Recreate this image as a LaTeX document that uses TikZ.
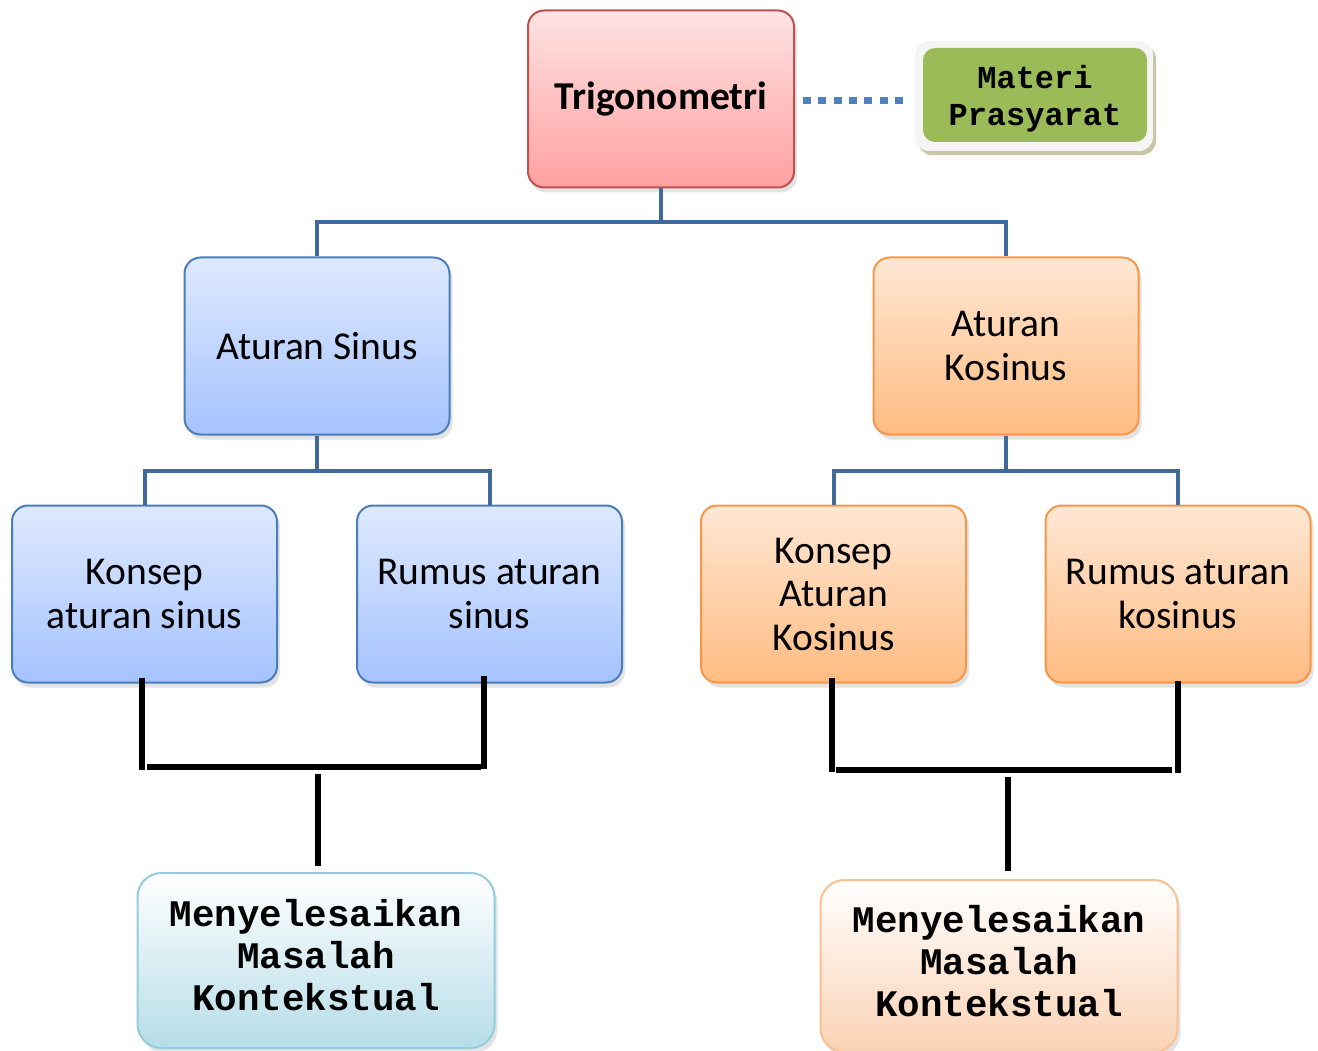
\documentclass[tikz,border=0pt]{standalone}
\usepackage{fontspec}
\setmainfont{Carlito}
\newfontfamily\monob{Liberation Mono}
\usetikzlibrary{shadows}
\definecolor{trigB}{HTML}{C0504D}
\definecolor{trigT}{HTML}{FFE3E3}
\definecolor{trigL}{HTML}{FFA0A0}
\definecolor{bluB}{HTML}{4A7EBB}
\definecolor{bluT}{HTML}{DEE9FF}
\definecolor{bluL}{HTML}{A5C3FF}
\definecolor{oraB}{HTML}{F79646}
\definecolor{oraT}{HTML}{FFE7D4}
\definecolor{oraL}{HTML}{FFBC82}
\definecolor{grn}{HTML}{9BBB59}
\definecolor{tealB}{HTML}{93CDDD}
\definecolor{tealL}{HTML}{B6DDE8}
\definecolor{peachB}{HTML}{FAC090}
\definecolor{peachL}{HTML}{FAD2B4}
\definecolor{conn}{HTML}{41699C}
\definecolor{dotc}{HTML}{4F81BD}
\begin{document}
\begin{tikzpicture}[x=1pt,y=-1pt,
  boxbase/.style={rounded corners=16pt, line width=2pt, inner sep=0pt, align=center,
    drop shadow={shadow xshift=3pt, shadow yshift=-5pt, opacity=0.22}},
  trigbox/.style={boxbase, draw=trigB, top color=trigT, bottom color=trigL,
    minimum width=266pt, minimum height=177pt, font=\fontsize{39.5}{44}\selectfont\bfseries},
  bluebox/.style={boxbase, draw=bluB, top color=bluT, bottom color=bluL,
    minimum width=265pt, minimum height=177pt, font=\fontsize{39.5}{43.5}\selectfont},
  orabox/.style={boxbase, draw=oraB, top color=oraT, bottom color=oraL,
    minimum width=265pt, minimum height=177pt, font=\fontsize{39.5}{43.5}\selectfont},
  endbox/.style={boxbase, rounded corners=24pt, minimum width=357pt},
  endtext/.style={align=center, inner sep=0pt, font=\monob\fontsize{37.5}{42}\selectfont\bfseries},
  bluecon/.style={conn, line width=4pt},
  blk/.style={black, line width=6.5pt},
]
\useasboundingbox (0,0) rectangle (1318,1051);
% top
\node[trigbox] (trig) at (661,99) {Trigonometri};
\node[rounded corners=14pt, fill=gray!8, minimum width=238pt, minimum height=110pt,
  drop shadow={shadow xshift=3pt, shadow yshift=-4pt, fill=olive!40!gray!70, opacity=0.7}]
  (frame) at (1034,96) {};
\node[rounded corners=12pt, fill=grn, minimum width=224pt, minimum height=94pt, inner sep=0pt] (mat) at (1035,95) {};
\node[align=center, inner sep=0pt, font=\monob\fontsize{32}{37}\selectfont\bfseries] (mattxt) at ([yshift=-4pt]mat.center) {Materi\\Prasyarat};
\draw[dotc, line width=7pt, dash pattern=on 8pt off 7.3pt] ([xshift=8pt,yshift=-2pt]trig.east) -- ([xshift=-10pt,yshift=-5pt]frame.west);
% level 2
\node[bluebox] (sin) at (317,346) {Aturan Sinus};
\node[orabox] (cos) at (1006,346) {Aturan\\Kosinus};
\draw[bluecon] (trig.south) -- ++(0,34) -| (sin.north);
\draw[bluecon] (trig.south) -- ++(0,34) -| (cos.north);
% level 3
\node[bluebox] (ks) at (144.5,594) {Konsep\\aturan sinus};
\node[bluebox] (rs) at (489.5,594) {Rumus aturan\\sinus};
\node[orabox] (kk) at (833.5,594) {Konsep\\Aturan\\Kosinus};
\node[orabox] (rk) at (1178,594) {Rumus aturan\\kosinus};
\draw[bluecon] (sin.south) -- ++(0,35) -| (ks.north);
\draw[bluecon] (sin.south) -- ++(0,35) -| (rs.north);
\draw[bluecon] (cos.south) -- ++(0,35) -| (kk.north);
\draw[bluecon] (cos.south) -- ++(0,35) -| (rk.north);
% bottom
\node[endbox, draw=tealB, top color=white, bottom color=tealL, minimum height=175pt] (msl) at (316,960.5) {};
\node[endtext] (msltxt) at ([yshift=5pt]msl.center) {Menyelesaikan\\Masalah\\Kontekstual};
\node[endbox, draw=peachB, top color=white, bottom color=peachL, minimum height=172pt] (msr) at (999,966) {};
\node[endtext] (msrtxt) at ([yshift=5pt]msr.center) {Menyelesaikan\\Masalah\\Kontekstual};
% black connectors, left
\coordinate (hl1) at (147,767);
\coordinate (hl2) at (481,767);
\draw[blk] ([xshift=-2.5pt,yshift=6pt]ks.south) -- ++(0,92);
\draw[blk] ([xshift=-5.5pt,yshift=8pt]rs.south) -- ++(0,93);
\draw[blk] (hl1) -- (hl2);
\draw[blk] ([xshift=2pt,yshift=6pt]msl.north) -- ++(0,-92);
% black connectors, right
\coordinate (hr1) at (836,770);
\coordinate (hr2) at (1172,770);
\draw[blk] ([xshift=-1.5pt,yshift=6pt]kk.south) -- ++(0,94);
\draw[blk] ([yshift=3pt]rk.south) -- ++(0,92);
\draw[blk] (hr1) -- (hr2);
\draw[blk] ([xshift=9pt,yshift=8pt]msr.north) -- ++(0,-94);
\end{tikzpicture}
\end{document}
